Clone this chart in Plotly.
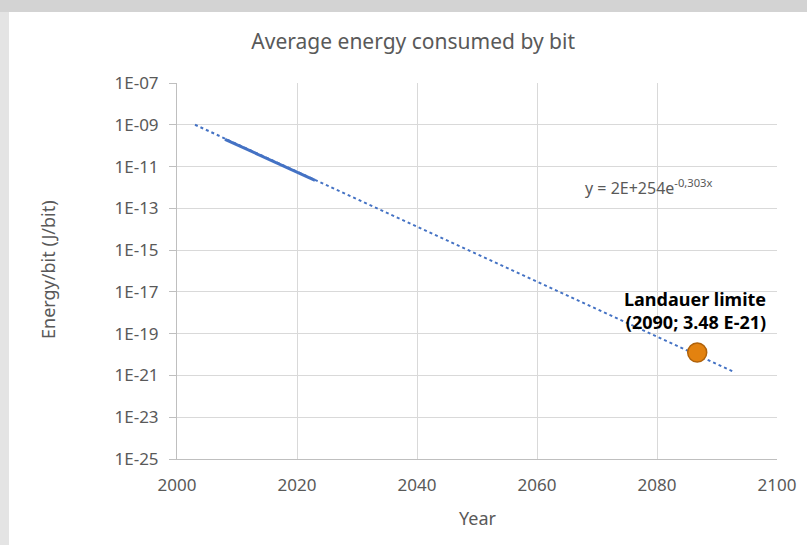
import plotly.graph_objects as go

# measured data (solid blue)
years = [2008, 2010, 2012, 2014, 2016, 2018, 2020, 2022, 2023]
energy = [2.0e-10, 1.1e-10, 6.2e-11, 3.4e-11, 1.8e-11, 1.0e-11, 5.4e-12, 2.9e-12, 2.2e-12]

# exponential trendline (dotted), end points as drawn
trend_years = [2003, 2093]
trend_energy = [1.0e-9, 1.4e-21]

# Landauer point as plotted
landauer_year = [2086.7]
landauer_energy = [1.25e-20]

tick_vals = [10.0 ** p for p in range(-25, -6, 2)]
tick_text = ["1E-%02d" % -p for p in range(-25, -6, 2)]

FONT = "Noto Sans"
GREY = "#595959"
GRID = "#d9d9d9"
BLUE = "#4472C4"

fig = go.Figure()
fig.add_trace(
    go.Scatter(
        x=trend_years,
        y=trend_energy,
        mode="lines",
        line=dict(color=BLUE, width=2, dash="dot"),
        showlegend=False,
    )
)
fig.add_trace(
    go.Scatter(
        x=years,
        y=energy,
        mode="lines",
        line=dict(color=BLUE, width=3),
        showlegend=False,
    )
)
fig.add_trace(
    go.Scatter(
        x=landauer_year,
        y=landauer_energy,
        mode="markers",
        marker=dict(color="#E3820F", size=19, line=dict(color="#B0620A", width=1.5)),
        showlegend=False,
    )
)

fig.update_layout(
    width=807,
    height=545,
    margin=dict(l=177, r=30, t=83, b=86),
    paper_bgcolor="white",
    plot_bgcolor="white",
    font=dict(family=FONT, color=GREY, size=16),
    title=dict(
        text="Average energy consumed by bit",
        x=0.512,
        xref="container",
        xanchor="center",
        y=1 - 42 / 545,
        yref="container",
        yanchor="middle",
        font=dict(family=FONT, size=21, color=GREY),
    ),
    showlegend=False,
)

fig.update_xaxes(
    range=[2000, 2100],
    tickvals=[2000, 2020, 2040, 2060, 2080, 2100],
    showgrid=True,
    gridcolor=GRID,
    gridwidth=1,
    zeroline=False,
    showline=True,
    linecolor="#bfbfbf",
    ticks="",
    ticklabelstandoff=11,
    tickfont=dict(size=17, color=GREY),
)
fig.update_yaxes(
    type="log",
    range=[-25, -7],
    tickvals=tick_vals,
    ticktext=tick_text,
    showgrid=True,
    gridcolor=GRID,
    gridwidth=1,
    zeroline=False,
    showline=True,
    linecolor="#bfbfbf",
    ticks="outside",
    ticklen=7,
    tickcolor="#bfbfbf",
    ticklabelstandoff=7,
    tickfont=dict(size=17, color=GREY),
)

# grey frame round the chart
fig.add_shape(type="rect", xref="paper", yref="paper",
              x0=-0.3, x1=1.06, y0=1 + (83 - 12) / 376, y1=1 + 83 / 376 + 0.01,
              fillcolor="#d3d3d3", line_width=0, layer="below")
fig.add_shape(type="rect", xref="paper", yref="paper",
              x0=-0.3, x1=(9 - 177) / 600, y0=-86 / 376 - 0.01, y1=1 + (83 - 12) / 376,
              fillcolor="#e4e4e4", line_width=0, layer="below")

fig.add_annotation(
    text="Energy/bit (J/bit)", textangle=-90,
    xref="paper", yref="paper",
    x=(48 - 177) / 600, y=1 - (270 - 83) / 376,
    xanchor="center", yanchor="middle", showarrow=False,
    font=dict(size=18, color=GREY),
)
fig.add_annotation(
    text="Year", xref="paper", yref="paper",
    x=(478 - 177) / 600, y=-(518 - 459) / 376,
    xanchor="center", yanchor="middle", showarrow=False,
    font=dict(size=18, color=GREY),
)
fig.add_annotation(
    text="y = 2E+254e<sup>-0,303x</sup>",
    x=2067.7, y=-12, xanchor="left", yanchor="middle", showarrow=False,
    font=dict(size=16, color=GREY),
)
fig.add_annotation(
    text="<b>Landauer limite<br>(2090; 3.48 E-21)</b>",
    x=2098.5, y=-17.9, xanchor="right", yanchor="middle", align="right",
    showarrow=False,
    font=dict(size=18, color="black"),
)

fig.write_html(
    "out.html",
    config={"displayModeBar": False},
    post_script="document.body.style.margin='0';",
)
